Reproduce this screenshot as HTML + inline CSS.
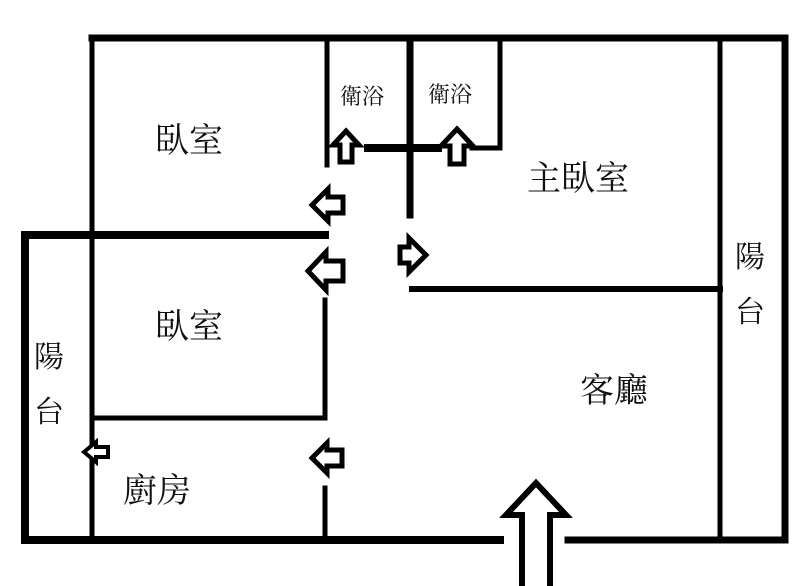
<!DOCTYPE html><html><head><style>body{margin:0;background:#fff}svg{display:block}text{font-family:"Liberation Serif","Noto Serif CJK SC","Noto Sans CJK TC",serif;fill:#111}</style></head><body>
<svg width="800" height="586" viewBox="0 0 800 586" xmlns="http://www.w3.org/2000/svg">
<g stroke="#000" stroke-linecap="square" fill="none">
<path d="M92 38H785V540H568" stroke-width="7"/>
<path d="M500 540H25V235H325" stroke-width="8"/>
<path d="M720 38V535" stroke-width="5"/>
<path d="M92 38V540" stroke-width="5"/>
<path d="M92 418H325V300M325 488V540" stroke-width="5"/>
<path d="M327 38V165" stroke-width="5"/>
<path d="M410 38V215" stroke-width="7"/>
<path d="M368 148H438" stroke-width="8"/>
<path d="M472 148H500V38" stroke-width="5"/>
<path d="M412 289H720" stroke-width="6"/>
</g>
<g stroke="#000" stroke-width="5" fill="#fff" stroke-linejoin="miter">
<path d="M312 205L328 189V197H343V213H328V221Z"/>
<path d="M308 271L326 252V261H343V281H326V290Z"/>
<path d="M312 458L327 443V450H342V466H327V473Z"/>
<path d="M84 452L96 442V447H108V457H96V462Z" stroke-width="4"/>
<path d="M346 131L359 145H352V162H340V145H333Z"/>
<path d="M457 129L473 146H464V164H450V146H441Z"/>
<path d="M426 255L409 238V247H400V263H409V272Z"/>
<path d="M536 483L566 515H550V590H522V515H506Z" stroke-width="6"/>
</g>
<g font-size="34">
<text x="155" y="152">臥室</text>
<text x="155" y="338">臥室</text>
<text x="527" y="190">主臥室</text>
<text x="580" y="402">客廳</text>
<text x="123" y="502">廚房</text>
<text x="34" y="367" font-size="30">陽</text>
<text x="34" y="422" font-size="30">台</text>
<text x="735" y="267" font-size="30">陽</text>
<text x="735" y="322" font-size="30">台</text>
</g>
<text x="340" y="104" font-size="22">衛浴</text>
<text x="428" y="102" font-size="22">衛浴</text>
</svg></body></html>
